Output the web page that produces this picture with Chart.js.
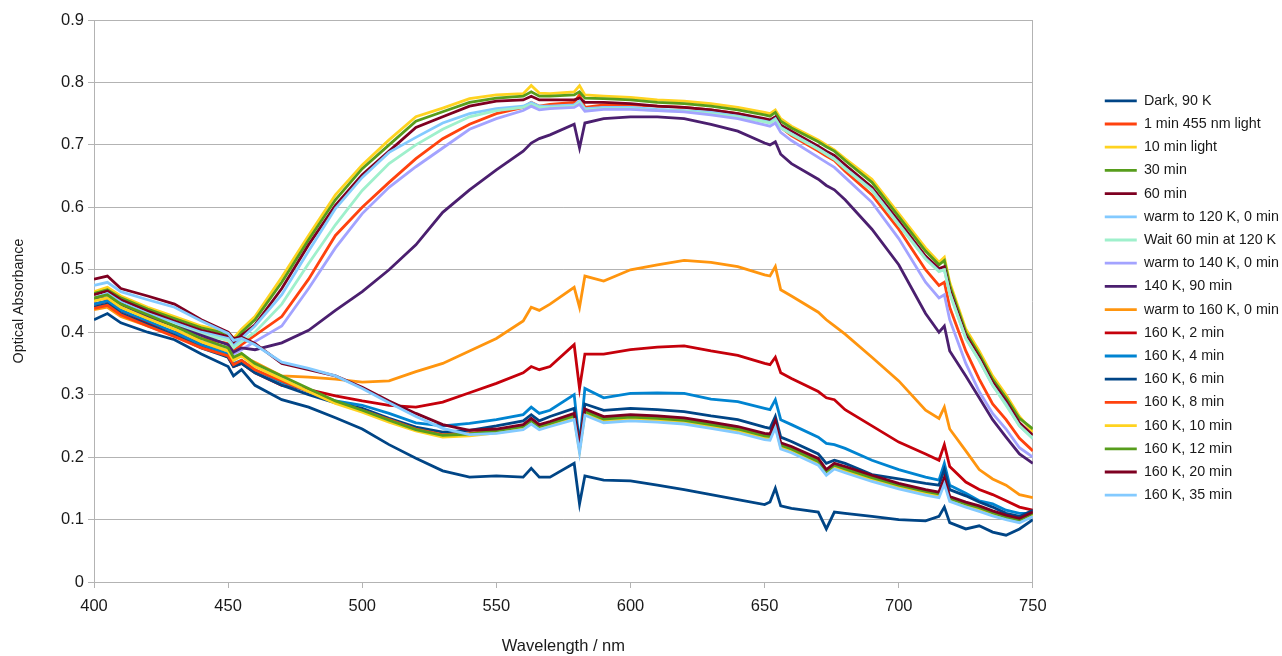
<!DOCTYPE html>
<html>
<head>
<meta charset="utf-8">
<script src="https://cdn.jsdelivr.net/npm/chart.js@4.4.1/dist/chart.umd.min.js"></script>
<style>
  html, body { margin: 0; padding: 0; background: #ffffff; }
  #wrap { width: 1282px; height: 656px; }
</style>
</head>
<body>
<div id="wrap"><canvas id="c" width="1282" height="656"></canvas></div>
<script>
// Wavelength grid (nm)
const wavelengths = [400,405,410,420,430, 440,450,452,455,460, 470,480,490,500,510, 520,530,540,550,560,
  563,566,570,579,581, 583,590,600,610,620, 630,640,650,652,654, 656,660,670,673,676,
  680,690,700,710,715, 717,719,725,730,735, 740,745,750];

const seriesNames = ["Dark, 90 K","1 min 455 nm light","10 min light","30 min","60 min",
  "warm to 120 K, 0 min","Wait 60 min at 120 K","warm to 140 K, 0 min","140 K, 90 min",
  "warm to 160 K, 0 min","160 K, 2 min","160 K, 4 min","160 K, 6 min","160 K, 8 min",
  "160 K, 10 min","160 K, 12 min","160 K, 20 min","160 K, 35 min"];

const dark90 = [0.42,0.43,0.415,0.40,0.388, 0.365,0.345,0.33,0.34,0.315, 0.292,0.28,0.263,0.245,0.22,
  0.198,0.178,0.168,0.17,0.168, 0.182,0.168,0.168,0.19,0.125, 0.17,0.163,0.162,0.155,0.148,
  0.14,0.132,0.124,0.128,0.15, 0.122,0.118,0.112,0.085,0.112, 0.11,0.105,0.10,0.098,0.105,
  0.12,0.095,0.085,0.09,0.08, 0.075,0.085,0.10];
const min1Light = [0.44,0.447,0.432,0.415,0.40, 0.39,0.382,0.37,0.38,0.395, 0.425,0.485,0.555,0.60,0.64,
  0.678,0.71,0.733,0.75,0.76, 0.768,0.762,0.765,0.768,0.78, 0.76,0.764,0.764,0.762,0.76,
  0.756,0.75,0.74,0.738,0.744, 0.728,0.715,0.69,0.682,0.675, 0.658,0.62,0.565,0.50,0.475,
  0.48,0.44,0.37,0.325,0.285, 0.26,0.23,0.21];
const min10Light = [0.465,0.472,0.458,0.44,0.425, 0.41,0.40,0.39,0.405,0.425, 0.488,0.555,0.62,0.668,0.708,
  0.745,0.759,0.774,0.78,0.782, 0.795,0.783,0.782,0.785,0.795, 0.78,0.778,0.776,0.772,0.77,
  0.766,0.76,0.752,0.75,0.756, 0.742,0.73,0.708,0.70,0.692, 0.678,0.645,0.59,0.535,0.512,
  0.52,0.48,0.405,0.37,0.33, 0.30,0.265,0.24];
const min30 = [0.462,0.468,0.455,0.437,0.422, 0.407,0.397,0.385,0.40,0.42, 0.48,0.548,0.612,0.662,0.70,
  0.738,0.753,0.768,0.775,0.778, 0.785,0.778,0.778,0.78,0.785, 0.775,0.774,0.772,0.768,0.766,
  0.762,0.756,0.748,0.746,0.752, 0.738,0.727,0.705,0.697,0.69, 0.675,0.64,0.585,0.53,0.508,
  0.515,0.475,0.40,0.365,0.325, 0.295,0.262,0.245];
const min60 = [0.46,0.466,0.452,0.434,0.418, 0.403,0.393,0.382,0.395,0.412, 0.47,0.54,0.603,0.652,0.69,
  0.728,0.745,0.762,0.77,0.772, 0.778,0.772,0.772,0.772,0.775, 0.768,0.768,0.766,0.762,0.76,
  0.756,0.75,0.742,0.74,0.745, 0.732,0.722,0.698,0.69,0.683, 0.668,0.632,0.578,0.522,0.502,
  0.505,0.468,0.395,0.36,0.32, 0.29,0.255,0.235];
const warm120 = [0.455,0.462,0.448,0.43,0.415, 0.40,0.39,0.378,0.39,0.41, 0.46,0.53,0.598,0.648,0.688,
  0.712,0.735,0.75,0.758,0.762, 0.768,0.762,0.762,0.764,0.77, 0.758,0.76,0.76,0.757,0.755,
  0.752,0.746,0.738,0.736,0.742, 0.728,0.718,0.694,0.686,0.678, 0.663,0.628,0.573,0.518,0.498,
  0.50,0.463,0.39,0.355,0.315, 0.285,0.25,0.23];
const wait120 = [0.45,0.457,0.444,0.426,0.412, 0.397,0.387,0.375,0.385,0.40, 0.445,0.51,0.572,0.627,0.67,
  0.70,0.725,0.745,0.755,0.76, 0.765,0.76,0.76,0.762,0.768, 0.756,0.758,0.758,0.755,0.754,
  0.75,0.745,0.737,0.735,0.74, 0.727,0.717,0.693,0.685,0.677, 0.662,0.627,0.572,0.517,0.497,
  0.50,0.462,0.39,0.355,0.315, 0.283,0.25,0.23];
const warm140 = [0.44,0.445,0.43,0.413,0.398, 0.385,0.376,0.365,0.372,0.385, 0.41,0.47,0.535,0.59,0.632,
  0.665,0.695,0.725,0.742,0.755, 0.762,0.756,0.758,0.76,0.765, 0.754,0.757,0.757,0.755,0.753,
  0.748,0.742,0.732,0.73,0.735, 0.72,0.707,0.68,0.672,0.664, 0.648,0.608,0.55,0.48,0.455,
  0.46,0.42,0.35,0.305,0.27, 0.245,0.215,0.2];
const k140min90 = [0.452,0.455,0.445,0.425,0.41, 0.395,0.38,0.368,0.375,0.372, 0.383,0.403,0.435,0.465,0.50,
  0.54,0.592,0.628,0.66,0.69, 0.703,0.71,0.716,0.733,0.695, 0.735,0.742,0.745,0.745,0.742,
  0.733,0.722,0.703,0.70,0.705, 0.685,0.67,0.645,0.635,0.628, 0.612,0.565,0.508,0.43,0.40,
  0.41,0.37,0.33,0.295,0.26, 0.232,0.205,0.19];
const warm160 = [0.436,0.44,0.425,0.41,0.395, 0.38,0.37,0.358,0.362,0.352, 0.33,0.328,0.325,0.32,0.322,
  0.337,0.35,0.37,0.39,0.418, 0.44,0.435,0.445,0.472,0.44, 0.49,0.482,0.50,0.508,0.515,
  0.512,0.505,0.492,0.49,0.505, 0.468,0.458,0.432,0.42,0.41, 0.397,0.36,0.322,0.275,0.262,
  0.28,0.245,0.21,0.18,0.165, 0.155,0.14,0.135];
const k160min2 = [0.445,0.45,0.435,0.415,0.40, 0.38,0.36,0.345,0.35,0.335, 0.315,0.308,0.298,0.29,0.283,
  0.28,0.288,0.303,0.318,0.335, 0.345,0.34,0.345,0.38,0.31, 0.365,0.365,0.372,0.376,0.378,
  0.37,0.363,0.35,0.348,0.36, 0.335,0.326,0.305,0.295,0.292, 0.276,0.25,0.224,0.205,0.195,
  0.22,0.185,0.16,0.148,0.14, 0.13,0.12,0.115];
const k160min4 = [0.445,0.45,0.435,0.418,0.40, 0.38,0.365,0.35,0.355,0.34, 0.32,0.305,0.29,0.283,0.27,
  0.255,0.25,0.254,0.26,0.268, 0.28,0.27,0.275,0.30,0.22, 0.31,0.295,0.302,0.303,0.302,
  0.293,0.289,0.278,0.276,0.292, 0.26,0.252,0.232,0.222,0.22, 0.214,0.195,0.18,0.168,0.163,
  0.19,0.155,0.142,0.13,0.125, 0.115,0.11,0.11];
const k160min6 = [0.44,0.445,0.43,0.412,0.395, 0.375,0.36,0.345,0.35,0.335, 0.315,0.30,0.287,0.278,0.262,
  0.248,0.24,0.243,0.25,0.258, 0.268,0.258,0.265,0.278,0.225, 0.285,0.275,0.278,0.276,0.273,
  0.266,0.26,0.248,0.246,0.265, 0.232,0.225,0.205,0.19,0.195, 0.19,0.172,0.165,0.158,0.155,
  0.18,0.148,0.138,0.128,0.12, 0.11,0.105,0.115];
const k160min8 = [0.438,0.443,0.428,0.41,0.393, 0.375,0.362,0.348,0.355,0.34, 0.322,0.305,0.288,0.275,0.26,
  0.245,0.236,0.238,0.243,0.25, 0.26,0.25,0.255,0.268,0.215, 0.275,0.262,0.265,0.263,0.26,
  0.253,0.246,0.235,0.234,0.255, 0.22,0.214,0.195,0.178,0.188, 0.182,0.168,0.156,0.146,0.142,
  0.165,0.135,0.126,0.12,0.112, 0.105,0.10,0.11];
const k160min10 = [0.45,0.455,0.44,0.422,0.405, 0.385,0.37,0.355,0.362,0.345, 0.325,0.305,0.286,0.272,0.256,
  0.242,0.232,0.234,0.239,0.246, 0.256,0.246,0.251,0.263,0.21, 0.27,0.258,0.261,0.259,0.256,
  0.249,0.242,0.231,0.23,0.25, 0.216,0.21,0.19,0.174,0.184, 0.178,0.164,0.152,0.142,0.138,
  0.16,0.132,0.122,0.116,0.108, 0.102,0.097,0.108];
const k160min12 = [0.455,0.46,0.445,0.428,0.41, 0.39,0.375,0.36,0.366,0.35, 0.33,0.31,0.29,0.275,0.259,
  0.244,0.235,0.237,0.242,0.249, 0.258,0.249,0.254,0.266,0.213, 0.273,0.261,0.264,0.262,0.259,
  0.252,0.245,0.234,0.233,0.253, 0.219,0.213,0.193,0.177,0.187, 0.181,0.167,0.155,0.145,0.141,
  0.163,0.134,0.125,0.119,0.111, 0.104,0.099,0.11];
const k160min20 = [0.485,0.49,0.47,0.458,0.445, 0.42,0.40,0.39,0.392,0.382, 0.35,0.34,0.33,0.312,0.29,
  0.27,0.252,0.243,0.245,0.252, 0.262,0.252,0.257,0.27,0.218, 0.277,0.265,0.268,0.266,0.263,
  0.256,0.249,0.238,0.237,0.258, 0.223,0.217,0.198,0.18,0.19, 0.185,0.171,0.158,0.148,0.144,
  0.167,0.137,0.128,0.122,0.114, 0.107,0.102,0.112];
const k160min35 = [0.475,0.48,0.465,0.452,0.44, 0.418,0.398,0.387,0.39,0.38, 0.352,0.342,0.33,0.31,0.287,
  0.265,0.246,0.236,0.238,0.244, 0.253,0.244,0.249,0.26,0.207, 0.267,0.255,0.258,0.256,0.253,
  0.246,0.239,0.228,0.227,0.247, 0.213,0.207,0.187,0.171,0.181, 0.175,0.161,0.149,0.139,0.135,
  0.157,0.129,0.12,0.113,0.106, 0.1,0.095,0.105];

const seriesValues = [dark90, min1Light, min10Light, min30, min60, warm120, wait120, warm140, k140min90,
  warm160, k160min2, k160min4, k160min6, k160min8, k160min10, k160min12, k160min20, k160min35];

const seriesColors = ["#004586","#ff420e","#ffd320","#579d1c","#7e0021","#83caff","#9ff0cc","#a3a3ff",
  "#4b1f6f","#ff950e","#c5000b","#0084d1","#004586","#ff420e","#ffd320","#579d1c","#7e0021","#83caff"];

const yTicks = [0,0.1,0.2,0.3,0.4,0.5,0.6,0.7,0.8,0.9];
const xTicks = [400,450,500,550,600,650,700,750];

seriesValues.forEach((arr, i) => {
  if (arr.length !== wavelengths.length) throw new Error("length mismatch in " + seriesNames[i] + ": " + arr.length);
});

const N = seriesValues.length;
const datasets = seriesValues.map((vals, i) => ({
  label: seriesNames[i],
  data: wavelengths.map((w, j) => ({ x: w, y: vals[j] })),
  borderColor: seriesColors[i],
  backgroundColor: seriesColors[i],
  borderWidth: 2.8,
  pointRadius: 0,
  tension: 0,
  fill: false,
  order: N - i
}));

const FONT = "'Liberation Sans', Arial, sans-serif";
const TXT = '#1a1a1a';
const GRID = '#b3b3b3';

// small positional nudge of the legend block (layout only)
const legendNudge = {
  id: 'legendNudge',
  afterLayout(chart) {
    const l = chart.legend;
    if (!l) return;
    l.left += 7; l.right += 7;
    l.top -= 3; l.bottom -= 3;
  }
};

new Chart(document.getElementById('c'), {
  type: 'line',
  data: { datasets },
  plugins: [legendNudge],
  options: {
    responsive: false,
    animation: false,
    devicePixelRatio: 1,
    layout: { padding: { top: 20, right: 0, bottom: 0, left: 0 } },
    plugins: {
      legend: {
        position: 'right', align: 'center', fullSize: false, reverse: true,
        labels: {
          usePointStyle: true, pointStyle: 'line', pointStyleWidth: 32, boxHeight: 14,
          padding: 8.9, color: TXT, font: { family: FONT, size: 14.3 }
        }
      },
      tooltip: { enabled: false }
    },
    scales: {
      x: {
        type: 'linear', min: 400, max: 750,
        afterFit: (s) => { s.height = 74; },
        afterBuildTicks: (s) => { s.ticks = xTicks.map(v => ({ value: v })); },
        ticks: { padding: 9, color: TXT, font: { family: FONT, size: 16.5 }, maxRotation: 0, autoSkip: false },
        grid: { drawOnChartArea: false, drawTicks: true, tickLength: 6, color: GRID },
        border: { color: GRID },
        title: { display: true, text: 'Wavelength / nm', color: TXT, font: { family: FONT, size: 16.5 }, padding: { top: 0, bottom: 0 } }
      },
      y: {
        min: 0, max: 0.9,
        afterFit: (s) => { s.width = 94; },
        afterBuildTicks: (s) => { s.ticks = yTicks.map(v => ({ value: v })); },
        ticks: { padding: 4, color: TXT, font: { family: FONT, size: 16.5 }, callback: (v) => String(Math.round(v * 10) / 10) },
        grid: { color: GRID, tickLength: 6 },
        border: { color: GRID },
        title: { display: true, text: 'Optical Absorbance', color: TXT, font: { family: FONT, size: 14.3 }, padding: { top: 10, bottom: 0 } }
      },
      yRight: {
        position: 'right', display: true,
        afterFit: (s) => { s.width = 56; },
        ticks: { display: false },
        grid: { display: false, drawTicks: false },
        border: { display: true, color: GRID }
      }
    }
  }
});
</script>
</body>
</html>
